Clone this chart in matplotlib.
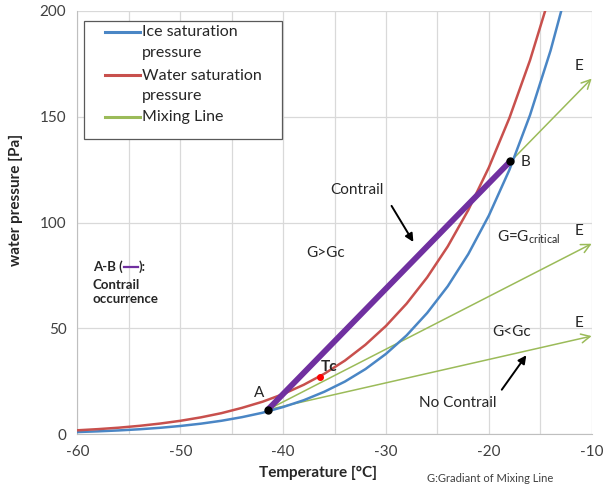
import numpy as np
import matplotlib
matplotlib.use('Agg')
import matplotlib.pyplot as plt
from matplotlib.patches import Rectangle

plt.rcParams['font.family'] = ['Lato', 'DejaVu Sans']
plt.rcParams['axes.unicode_minus'] = False

# saturation vapour pressure over ice / water [Pa]
temp = [-60, -58, -56, -54, -52, -50, -48, -46, -44, -42, -40, -38, -36,
        -34, -32, -30, -28, -26, -24, -22, -20, -18, -16, -14, -12, -10]
p_ice = [1.08, 1.41, 1.84, 2.38, 3.07, 3.94, 5.03, 6.40, 8.11, 10.2, 12.9,
         16.1, 20.1, 24.9, 30.8, 38.0, 46.7, 57.3, 69.9, 85.1, 103.3, 124.9,
         150.7, 181.2, 217.3, 259.9]
p_water = [1.90, 2.45, 3.13, 3.99, 5.06, 6.38, 8.01, 10.0, 12.5, 15.4, 19.0,
           23.4, 28.6, 34.8, 42.3, 51.2, 61.7, 74.1, 88.7, 105.9, 126.0, 149.4,
           176.6, 208.3, 244.8, 286.5]

# key points
pt_a = (-41.5, 11.6)
pt_b = (-17.9, 129.0)
pt_tc = (-36.4, 26.9)
# end points (E) of the three mixing lines
mix_end_t = [-10, -10, -10]
mix_end_p = [168.0, 90.0, 46.4]

series_names = ['Ice saturation\npressure', 'Water saturation\npressure', 'Mixing Line']

blue = '#4a86c5'
red = '#c8504d'
green = '#9bbb59'
purple = '#7030a0'
ink = '#262626'

W, H = 611, 488
fig = plt.figure(figsize=(W / 100, H / 100), dpi=100)
ax = fig.add_axes([0.1268, 0.110, 0.8416, 0.8679])

ax.plot(temp, p_ice, color=blue, lw=1.8, zorder=3)
ax.plot(temp, p_water, color=red, lw=1.8, zorder=3)

for te, pe in zip(mix_end_t, mix_end_p):
    ax.annotate('', xy=(te, pe), xytext=pt_a,
                arrowprops=dict(arrowstyle='->', color=green, lw=1.1,
                                mutation_scale=16, shrinkA=0, shrinkB=0),
                zorder=2)

# contrail segment A-B
ax.plot([pt_a[0], pt_b[0]], [pt_a[1], pt_b[1]], color=purple, lw=4.2,
        solid_capstyle='butt', zorder=4)

ax.plot(*pt_a, 'o', color='black', ms=5, zorder=6)
ax.plot(*pt_b, 'o', color='black', ms=5, zorder=6)
ax.plot(*pt_tc, 'o', color='red', ms=4, zorder=6)

ax.set_xlim(-60, -10)
ax.set_ylim(0, 200)
ax.set_xticks(np.arange(-60, -9, 10))
ax.set_xticks(np.arange(-60, -9, 5), minor=True)
ax.set_yticks(np.arange(0, 201, 50))
ax.grid(True, which='both', color='#d9d9d9', lw=0.9)
ax.set_axisbelow(True)
ax.tick_params(which='both', length=0, labelsize=11, colors='#404040', pad=8)
for s in ['top', 'right']:
    ax.spines[s].set_visible(False)
for s in ['left', 'bottom']:
    ax.spines[s].set_color('#bfbfbf')

ax.set_xlabel('Temperature [°C]', fontsize=11, fontweight='bold', color=ink)
ax.set_ylabel('water pressure [Pa]', fontsize=11, fontweight='bold', color=ink)
ax.xaxis.set_label_coords(0.468, -0.075)
ax.yaxis.set_label_coords(-0.106, 0.553)


def px(x, y):
    # figure pixel (from top-left) -> figure fraction
    return x / W, 1 - y / H


# legend box drawn by hand
x0, y0 = px(84, 139)
x1, y1 = px(282, 21)
fig.patches.append(Rectangle((x0, y0), x1 - x0, y1 - y0, transform=fig.transFigure,
                             facecolor='white', edgecolor='#595959', lw=0.9,
                             zorder=10))
for name, col, yy in zip(series_names, [blue, red, green], [32, 75, 117]):
    fig.add_artist(plt.Line2D([px(105, 0)[0], px(140, 0)[0]],
                              [px(0, yy)[1]] * 2, color=col, lw=2.2,
                              transform=fig.transFigure, zorder=11))
    fig.text(*px(141.5, yy - 6.5), name, ha='left', va='top', fontsize=11.5,
             color=ink, linespacing=1.62, zorder=11)

txt = dict(fontsize=11, color=ink)
ax.text(-32.8, 115.5, 'Contrail', ha='center', va='center', **txt)
ax.annotate('', xy=(-27.2, 89.7), xytext=(-29.6, 109),
            arrowprops=dict(arrowstyle='-|>', color='black', lw=1.4,
                            mutation_scale=12))
ax.text(-35.9, 85.5, 'G>Gc', ha='center', va='center', **txt)
ax.text(-19.2, 93, 'G=G$_{\\mathregular{critical}}$', ha='left', va='center', **txt)
ax.text(-19.7, 48.5, 'G<Gc', ha='left', va='center', **txt)
ax.text(-23.0, 14.8, 'No Contrail', ha='center', va='center', **txt)
ax.annotate('', xy=(-16.2, 38.4), xytext=(-18.9, 20),
            arrowprops=dict(arrowstyle='-|>', color='black', lw=1.4,
                            mutation_scale=12))
for te, pe in zip(mix_end_t, mix_end_p):
    ax.text(te - 1.2, pe + 6.0, 'E', ha='center', va='center', **txt)
ax.text(-42.35, 19.5, 'A', ha='center', va='center', **txt)
ax.text(-16.4, 128.5, 'B', ha='center', va='center', **txt)
ax.text(-35.5, 31.8, 'Tc', ha='center', va='center', fontsize=11,
        fontweight='bold', color=ink)

# "A-B (—): Contrail occurrence" note, with a purple dash inline
note = dict(fontsize=9.5, fontweight='bold', color=ink)
t1 = ax.text(-58.5, 79, 'A-B (', ha='left', va='center', **note)
fig.canvas.draw()
bb = t1.get_window_extent(fig.canvas.get_renderer())
inv = ax.transData.inverted()
ymid = ax.transData.transform((0, 79))[1]
d0 = inv.transform((bb.x1 + 1, ymid))[0]
d1 = inv.transform((bb.x1 + 15, ymid))[0]
ax.plot([d0, d1], [79, 79], color=purple, lw=1.6)
ax.text(inv.transform((bb.x1 + 16, ymid))[0], 79, '):', ha='left', va='center', **note)
ax.text(-58.5, 67.3, 'Contrail\noccurrence', ha='left', va='center',
        linespacing=1.25, **note)

fig.text(0.699, 0.020, 'G:Gradiant of Mixing Line', ha='left', va='center',
         fontsize=8, color='#404040')

fig.savefig('out.png', dpi=100)
